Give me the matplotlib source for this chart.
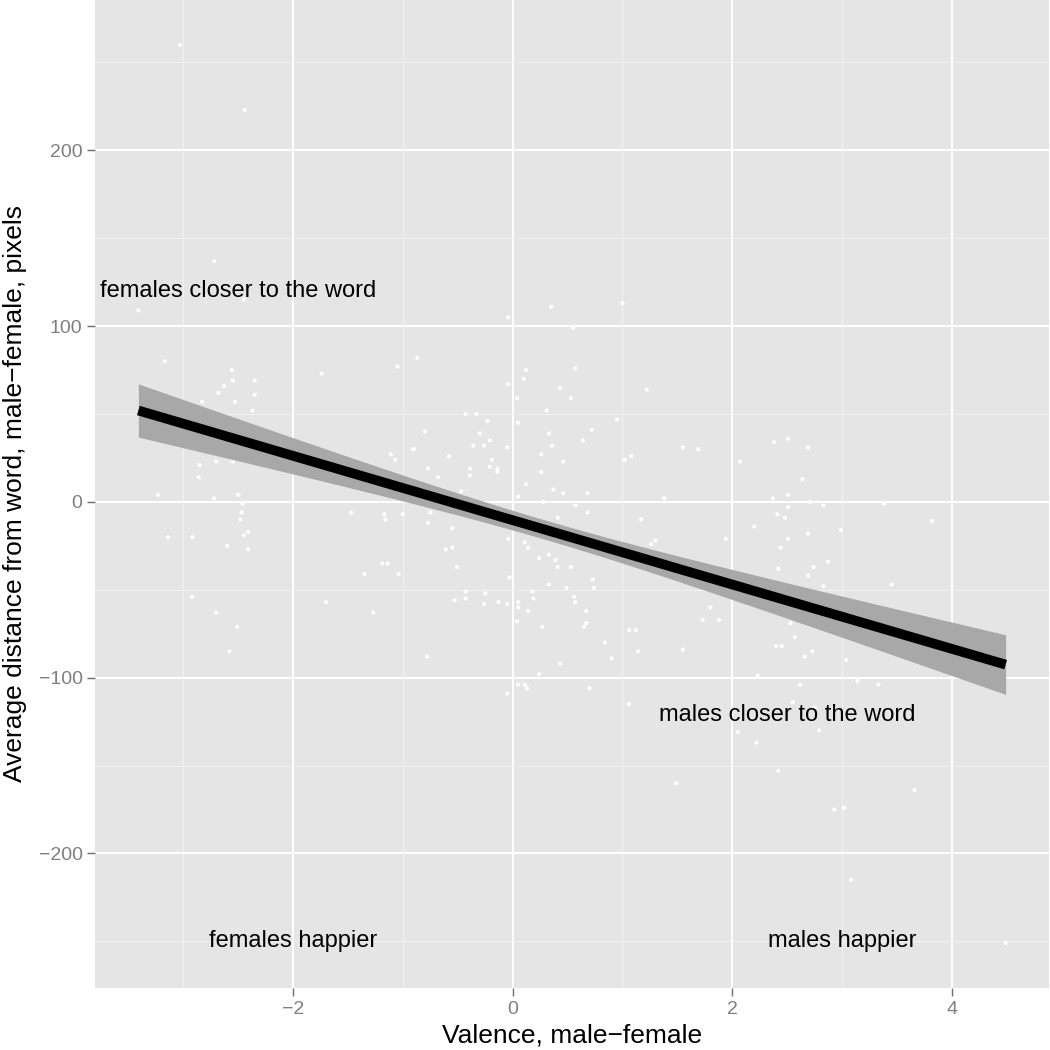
import numpy as np
import matplotlib
matplotlib.use("Agg")
import matplotlib.pyplot as plt
from matplotlib.ticker import MultipleLocator

plt.rcParams['font.family'] = ['Liberation Sans', 'DejaVu Sans']

# ---- data ----
valence = [
    -3.03, -2.44, -2.72, -3.41, -2.45, -3.17, -2.56, -2.55, -2.35, -2.63,
    -2.68, -2.35, -2.83, -2.53, -2.37, -1.74, -1.05, -0.91, -1.11, -1.07,
    -2.85, -2.70, -2.55, -2.86, -3.23, -2.72, -2.50, -2.46, -2.47, -2.48,
    -1.47, -1.17, -1.16, -1.00, -3.14, -2.92, -2.45, -2.41, -2.60, -2.41,
    -1.19, -1.14, -1.35, -1.04, -2.92, -1.70, -2.70, -1.27, -2.51, -2.58,
    0.35, 1.00, -0.04, 0.55, -0.87, 0.12, 0.57, 0.10, -0.04, 0.43,
    1.22, 0.04, 0.53, 0.31, -0.43, -0.33, -0.23, 0.05, 0.95, 0.72,
    -0.80, -0.30, 0.33, -0.21, 0.64, -0.36, -0.26, 0.36, -0.05, -0.90,
    1.55, 1.69, -0.58, 0.26, -0.19, 0.46, 1.02, 1.08, -0.21, -0.39,
    -0.14, -0.14, -0.77, 0.26, -0.39, -0.68, 0.12, 0.37, -0.47, 0.46,
    0.68, 0.05, 1.38,
    0.28, 0.57, 0.68, -0.75, 0.41, 1.17, -0.77, -0.55, -0.04, 0.11,
    1.30, 1.26, 1.94, -0.61, -0.55, 0.14, 0.33, 0.39, 0.24, 0.41,
    0.53, -0.51, -0.03, 0.73, 0.33, 0.74, 0.49, -0.43, -0.25, 0.18,
    0.56, -0.43, 0.19, -0.53, -0.13, -0.05, 0.05, 0.57, -0.26, 0.05,
    0.14, 0.67, 1.80, 1.73, 1.88, 0.04, 0.27, 0.67, 0.65, 1.06,
    1.12, 0.84, 1.55, 1.14, -0.78, 0.90, 0.43, 0.24, 0.05, 0.11,
    0.13, 0.70, -0.05, 1.06,
    2.38, 2.51, 2.69, 2.07, 2.64, 2.51, 2.37, 2.71, 2.83, 3.38,
    2.51, 2.41, 2.48, 2.20, 3.82, 2.99, 2.69, 2.51, 2.44, 2.87,
    2.42, 2.74, 2.69, 3.45, 2.83, 2.53, 2.57, 2.40, 2.45, 2.73,
    2.66, 3.04, 2.23,
    2.62, 3.14, 3.33, 2.55, 2.75, 2.05, 2.79, 2.22, 2.42, 1.49,
    3.66, 2.93, 3.02, 3.08, 4.49,
]
distance = [
    260, 223, 137, 109, 115, 80, 75, 69, 69, 66,
    62, 61, 57, 57, 52, 73, 77, 30, 27, 24,
    21, 23, 23, 14, 4, 2, 4, -1, -6, -10,
    -6, -7, -10, -7, -20, -20, -19, -17, -25, -27,
    -35, -35, -41, -41, -54, -57, -63, -63, -71, -85,
    111, 113, 105, 99, 82, 75, 76, 70, 67, 65,
    64, 59, 59, 52, 50, 50, 46, 45, 47, 41,
    40, 39, 39, 35, 35, 32, 32, 32, 31, 30,
    31, 30, 26, 27, 24, 23, 24, 26, 20, 19,
    19, 17, 19, 17, 15, 14, 10, 7, 6, 5,
    5, 3, 2,
    0, -2, -6, -6, -9, -10, -12, -15, -21, -23,
    -22, -24, -21, -27, -26, -26, -30, -33, -32, -37,
    -37, -37, -43, -44, -47, -49, -49, -51, -52, -51,
    -54, -55, -55, -56, -57, -58, -57, -57, -58, -60,
    -62, -62, -60, -67, -67, -68, -71, -69, -71, -73,
    -73, -80, -84, -85, -88, -89, -92, -98, -104, -104,
    -106, -106, -109, -115,
    34, 36, 31, 23, 13, 4, 2, 0, -2, -1,
    -3, -7, -9, -14, -11, -16, -18, -21, -26, -34,
    -38, -37, -42, -47, -48, -69, -77, -82, -82, -85,
    -88, -90, -99,
    -104, -102, -104, -114, -117, -131, -130, -137, -153, -160,
    -164, -175, -174, -215, -251,
]

# linear fit and its confidence band
fit_intercept = -10.4
fit_slope = -18.3
ci_center_x = 0.285
ci_min_halfwidth = 5.5
ci_spread = 3.82

annotations = ["females closer to the word", "males closer to the word",
               "females happier", "males happier"]
annot_x = [-2.5, 2.5, -2.0, 3.0]
annot_y = [120, -121, -250, -250]

x_ticks = [-2, 0, 2, 4]
y_ticks = [-200, -100, 0, 100, 200]

# ---- figure ----
fig = plt.figure(figsize=(10.5, 10.5), dpi=100)
ax = fig.add_axes([95 / 1050, 1 - 988 / 1050, (1049 - 95) / 1050, 988 / 1050])
ax.set_facecolor('#E5E5E5')

x = np.array(valence)
y = np.array(distance)

# limits with 5% expansion like ggplot
xr = x.max() - x.min()
yr = y.max() - y.min()
ax.set_xlim(x.min() - 0.05 * xr, x.max() + 0.05 * xr)
ax.set_ylim(y.min() - 0.05 * yr, y.max() + 0.05 * yr)

ax.set_xticks(x_ticks)
ax.set_yticks(y_ticks)
ax.xaxis.set_minor_locator(MultipleLocator(1))
ax.yaxis.set_minor_locator(MultipleLocator(50))
ax.grid(which='major', color='white', linewidth=1.4, zorder=0)
ax.grid(which='minor', color='#F2F2F2', linewidth=0.7, zorder=0)
ax.set_axisbelow(True)

for s in ax.spines.values():
    s.set_visible(False)

ax.tick_params(which='major', length=6, width=1.0, color='#6E6E6E',
               labelcolor='#7F7F7F', labelsize=14, pad=3)
ax.tick_params(which='minor', length=0)

# scatter
ax.scatter(x, y, s=9, color='white', edgecolors='none', zorder=2)

# fit + band
xs = np.linspace(x.min(), x.max(), 200)
ys = fit_intercept + fit_slope * xs
hw = np.sqrt(ci_min_halfwidth ** 2 + (ci_spread * (xs - ci_center_x)) ** 2)
ax.fill_between(xs, ys - hw, ys + hw, color='#A8A8A8', linewidth=0, zorder=3)
ax.plot(xs, ys, color='black', linewidth=7, solid_capstyle='butt', zorder=4)

for t, ax_, ay_ in zip(annotations, annot_x, annot_y):
    ax.text(ax_, ay_, t, fontsize=17, ha='center', va='center', color='black', zorder=5)

ax.set_xlabel('Valence, male\u2212female', fontsize=19, labelpad=4)
ax.set_ylabel('Average distance from word, male\u2212female, pixels', fontsize=19, labelpad=8)

fig.savefig('out.png', dpi=100, facecolor='white')
